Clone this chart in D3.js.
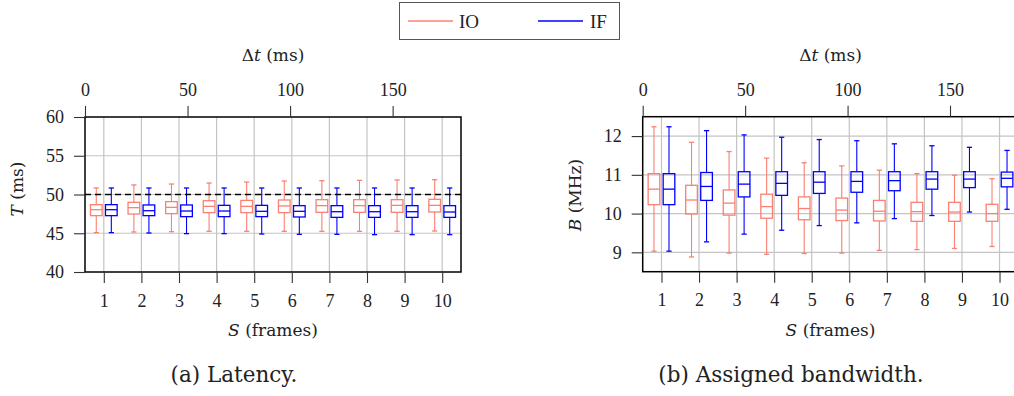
<!DOCTYPE html>
<html>
<head>
<meta charset="utf-8">
<script src="https://cdn.jsdelivr.net/npm/d3@7"></script>
<style>
  html, body { margin: 0; padding: 0; background: #fff; }
  svg { display: block; }
</style>
</head>
<body>
<svg id="chart" width="1014" height="396"></svg>
<script>
// Window size S (frames) shared by both panels
const frames = [1, 2, 3, 4, 5, 6, 7, 8, 9, 10];
const seriesNames = ["IO", "IF"];
const seriesColors = ["#fa8072", "#0000ff"];
const dtTicks = [0, 50, 100, 150];

// Latency T (ms): [lower whisker, Q1, median, Q3, upper whisker]
const latencyIO = [
  [45.08, 47.27, 48.04, 48.69, 50.84],
  [45.16, 47.48, 48.30, 48.99, 51.23],
  [45.20, 47.53, 48.34, 49.08, 51.35],
  [45.25, 47.66, 48.47, 49.20, 51.48],
  [45.25, 47.66, 48.47, 49.24, 51.60],
  [45.25, 47.66, 48.52, 49.29, 51.74],
  [45.25, 47.70, 48.56, 49.33, 51.78],
  [45.25, 47.70, 48.56, 49.33, 51.83],
  [45.25, 47.70, 48.60, 49.33, 51.87],
  [45.29, 47.74, 48.60, 49.38, 51.91]
];
const latencyIF = [
  [45.08, 47.27, 48.04, 48.69, 50.84],
  [45.03, 47.27, 47.91, 48.65, 50.84],
  [44.95, 47.14, 47.87, 48.65, 50.84],
  [44.95, 47.14, 47.87, 48.60, 50.84],
  [44.90, 47.14, 47.83, 48.60, 50.84],
  [44.86, 47.10, 47.83, 48.56, 50.84],
  [44.86, 47.05, 47.78, 48.56, 50.84],
  [44.82, 47.05, 47.78, 48.56, 50.84],
  [44.82, 47.05, 47.78, 48.56, 50.84],
  [44.82, 47.05, 47.74, 48.56, 50.84]
];
const latencyTicks = [40, 45, 50, 55, 60];
const latencyTarget = 50;

// Assigned bandwidth B (MHz): [lower whisker, Q1, median, Q3, upper whisker]
const bandwidthIO = [
  [9.03, 10.23, 10.63, 11.03, 12.24],
  [8.88, 9.99, 10.35, 10.73, 11.84],
  [8.98, 9.96, 10.27, 10.61, 11.60],
  [8.95, 9.88, 10.18, 10.50, 11.43],
  [8.97, 9.84, 10.13, 10.43, 11.31],
  [8.98, 9.82, 10.09, 10.40, 11.23],
  [9.05, 9.81, 10.06, 10.34, 11.12],
  [9.07, 9.80, 10.05, 10.29, 11.03],
  [9.10, 9.80, 10.04, 10.29, 10.99],
  [9.15, 9.80, 10.00, 10.24, 10.90]
];
const bandwidthIF = [
  [9.03, 10.23, 10.63, 11.03, 12.24],
  [9.27, 10.34, 10.70, 11.06, 12.14],
  [9.47, 10.43, 10.76, 11.08, 12.03],
  [9.57, 10.47, 10.78, 11.08, 11.97],
  [9.69, 10.52, 10.81, 11.08, 11.91],
  [9.76, 10.55, 10.83, 11.08, 11.88],
  [9.87, 10.59, 10.85, 11.08, 11.80],
  [9.95, 10.63, 10.89, 11.08, 11.75],
  [10.04, 10.67, 10.89, 11.08, 11.71],
  [10.11, 10.69, 10.91, 11.07, 11.63]
];
const bandwidthTicks = [9, 10, 11, 12];

const FONT = "'Liberation Serif', 'DejaVu Serif', serif";
const LABEL_FONT = "'DejaVu Serif', 'Liberation Serif', serif";
const svg = d3.select("#chart");
const gridColor = "#c4c4c4";
const tickLen = 11;
const fs = 18;
const labelFs = 17;

function drawPanel(opts) {
  const { left, right, top, bottom, yDomain, yTicks, data, yLabel, yLabelPos, caption, captionX, target } = opts;
  const g = svg.append("g");

  const x = d3.scaleLinear().domain([0.5, 10.5]).range([left, right]);
  // Δt axis: each frame spans 1000/60 * 1.1 ms
  const xt = d3.scaleLinear().domain([0, 10 * 1100 / 60]).range([left, right]);
  const y = d3.scaleLinear().domain(yDomain).range([bottom, top]);

  // grid
  g.append("g").selectAll("line").data(frames).join("line")
    .attr("x1", d => x(d)).attr("x2", d => x(d))
    .attr("y1", top).attr("y2", bottom)
    .attr("stroke", gridColor).attr("stroke-width", 1.2);
  g.append("g").selectAll("line").data(yTicks.filter(t => t > yDomain[0] && t < yDomain[1])).join("line")
    .attr("x1", left).attr("x2", right)
    .attr("y1", d => y(d)).attr("y2", d => y(d))
    .attr("stroke", gridColor).attr("stroke-width", 1.2);

  // boxes
  const offset = 0.2, half = 0.155, cap = 2.6;
  data.forEach((series, si) => {
    const dx = si === 0 ? -offset : offset;
    const sg = g.append("g").attr("stroke", seriesColors[si]).attr("fill", "none").attr("stroke-width", 1.3);
    series.forEach((s, i) => {
      const cx = x(frames[i] + dx);
      const bx0 = x(frames[i] + dx - half), bx1 = x(frames[i] + dx + half);
      const [lo, q1, med, q3, hi] = s;
      sg.append("line").attr("x1", cx).attr("x2", cx).attr("y1", y(hi)).attr("y2", y(q3)).attr("stroke-width", 1.1);
      sg.append("line").attr("x1", cx).attr("x2", cx).attr("y1", y(q1)).attr("y2", y(lo)).attr("stroke-width", 1.1);
      sg.append("line").attr("x1", cx - cap).attr("x2", cx + cap).attr("y1", y(hi)).attr("y2", y(hi));
      sg.append("line").attr("x1", cx - cap).attr("x2", cx + cap).attr("y1", y(lo)).attr("y2", y(lo));
      sg.append("rect").attr("x", bx0).attr("y", y(q3)).attr("width", bx1 - bx0).attr("height", y(q1) - y(q3));
      sg.append("line").attr("x1", bx0).attr("x2", bx1).attr("y1", y(med)).attr("y2", y(med));
    });
  });

  if (target !== undefined) {
    g.append("line").attr("x1", left).attr("x2", right)
      .attr("y1", y(target)).attr("y2", y(target))
      .attr("stroke", "#000").attr("stroke-width", 1.5).attr("stroke-dasharray", "6,4");
  }

  // frame
  g.append("rect").attr("x", left).attr("y", top).attr("width", right - left).attr("height", bottom - top)
    .attr("fill", "none").attr("stroke", "#000").attr("stroke-width", 1.5);

  // axes
  const yAxis = d3.axisLeft(y).tickValues(yTicks).tickFormat(d3.format("d")).tickSize(tickLen).tickPadding(10);
  const ga = g.append("g").attr("transform", `translate(${left},0)`).call(yAxis);
  const xAxis = d3.axisBottom(x).tickValues(frames).tickFormat(d3.format("d")).tickSize(tickLen).tickPadding(11);
  const gb = g.append("g").attr("transform", `translate(0,${bottom})`).call(xAxis);
  const tAxis = d3.axisTop(xt).tickValues(dtTicks).tickFormat(d3.format("d")).tickSize(tickLen).tickPadding(10);
  const gt = g.append("g").attr("transform", `translate(0,${top})`).call(tAxis);
  [ga, gb, gt].forEach(a => {
    a.attr("font-family", FONT).attr("font-size", fs);
    a.select(".domain").remove();
    a.selectAll(".tick line").attr("stroke", "#333").attr("stroke-width", 1.1);
    a.selectAll(".tick text").attr("fill", "#222");
  });

  const cx = (left + right) / 2;
  // top axis label
  const tl = g.append("text").attr("x", cx).attr("y", 61).attr("text-anchor", "middle")
    .attr("font-family", LABEL_FONT).attr("font-size", labelFs).attr("fill", "#222");
  tl.append("tspan").text("Δ");
  tl.append("tspan").attr("font-style", "italic").text("t");
  tl.append("tspan").text(" (ms)");

  // bottom axis label
  const bl = g.append("text").attr("x", cx).attr("y", 336).attr("text-anchor", "middle")
    .attr("font-family", LABEL_FONT).attr("font-size", labelFs).attr("fill", "#222");
  bl.append("tspan").attr("font-style", "italic").text("S");
  bl.append("tspan").text(" (frames)");

  // y label
  const yl = g.append("text").attr("transform", `translate(${yLabelPos.x},${yLabelPos.y}) rotate(-90)`)
    .attr("text-anchor", "middle").attr("font-family", LABEL_FONT).attr("font-size", labelFs).attr("fill", "#222");
  yl.append("tspan").attr("font-style", "italic").text(yLabel[0]);
  yl.append("tspan").text(yLabel[1]);

  // caption
  g.append("text").attr("x", captionX).attr("y", 382).attr("text-anchor", "middle")
    .attr("font-family", LABEL_FONT).attr("font-size", 21.5).attr("fill", "#222").text(caption);
}

drawPanel({
  left: 85, right: 461, top: 117, bottom: 272,
  yDomain: [40, 60], yTicks: latencyTicks,
  data: [latencyIO, latencyIF],
  yLabel: ["T", " (ms)"], yLabelPos: { x: 23, y: 189 },
  caption: "(a) Latency.", captionX: 234, target: latencyTarget
});

drawPanel({
  left: 642.7, right: 1018.3, top: 116.7, bottom: 271.7,
  yDomain: [8.5, 12.5], yTicks: bandwidthTicks,
  data: [bandwidthIO, bandwidthIF],
  yLabel: ["B", " (MHz)"], yLabelPos: { x: 581, y: 195 },
  caption: "(b) Assigned bandwidth.", captionX: 791
});

// legend
const lg = svg.append("g");
lg.append("rect").attr("x", 399.5).attr("y", 2.5).attr("width", 220).attr("height", 37)
  .attr("fill", "#fff").attr("stroke", "#555").attr("stroke-width", 1);
const legendPos = [{ x1: 408, x2: 453, tx: 459 }, { x1: 538, x2: 583, tx: 590 }];
seriesNames.forEach((name, i) => {
  lg.append("line").attr("x1", legendPos[i].x1).attr("x2", legendPos[i].x2)
    .attr("y1", 21).attr("y2", 21).attr("stroke", seriesColors[i]).attr("stroke-width", 1.6);
  lg.append("text").attr("x", legendPos[i].tx).attr("y", 27.5).attr("font-family", FONT)
    .attr("font-size", 19).attr("fill", "#222").text(name);
});
</script>
</body>
</html>
